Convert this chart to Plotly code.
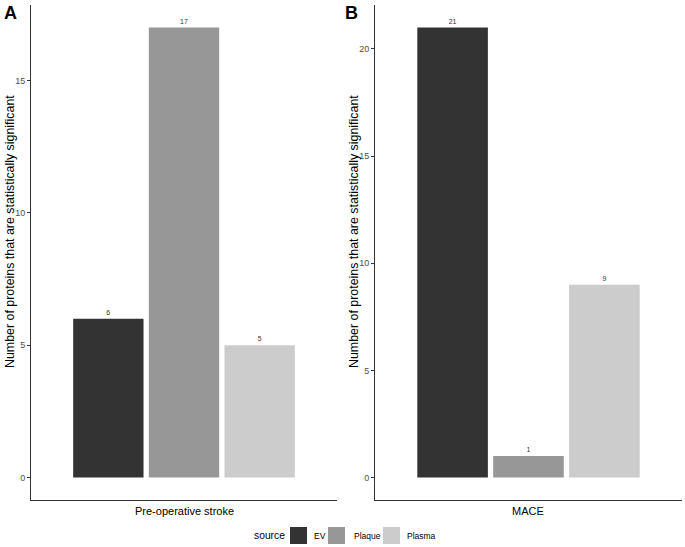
import plotly.graph_objects as go

sources = ["EV", "Plaque", "Plasma"]
colors = ["#333333", "#979797", "#cccccc"]
stroke_counts = [6, 17, 5]
mace_counts = [21, 1, 9]
panel_a_cat = ["Pre-operative stroke"]
panel_b_cat = ["MACE"]
ytitle = "Number of proteins that are statistically significant"
legend_title = "source"

W, H = 685, 547
ml, mr, mt, mb = 31, 3, 5, 47
pw = W - ml - mr
ph = H - mt - mb


def px(x):
    return (x - ml) / pw


def py(y):
    return (H - mb - y) / ph


fig = go.Figure()
for i, s in enumerate(sources):
    fig.add_trace(go.Bar(x=panel_a_cat, y=[stroke_counts[i]], name=s, marker_color=colors[i],
                         marker_line_width=0, legendgroup=s, showlegend=False,
                         text=[stroke_counts[i]], textposition="outside",
                         textfont=dict(size=7, color="#333333"), cliponaxis=False,
                         xaxis="x", yaxis="y"))
for i, s in enumerate(sources):
    fig.add_trace(go.Bar(x=panel_b_cat, y=[mace_counts[i]], name=s, marker_color=colors[i],
                         marker_line_width=0, legendgroup=s, showlegend=False,
                         text=[mace_counts[i]], textposition="outside",
                         textfont=dict(size=7, color="#333333"), cliponaxis=False,
                         xaxis="x2", yaxis="y2"))

axis_common = dict(showline=True, linecolor="#333333", linewidth=1, showgrid=False, zeroline=False,
                   automargin=False)
xa_dom = [0, px(337)]
xb_dom = [px(375), 1]

annotations = [
    dict(text="<b>A</b>", x=px(2), y=py(1), xref="paper", yref="paper", xanchor="left", yanchor="top",
         showarrow=False, font=dict(size=18)),
    dict(text="<b>B</b>", x=px(343), y=py(1), xref="paper", yref="paper", xanchor="left", yanchor="top",
         showarrow=False, font=dict(size=18)),
    dict(text=ytitle, textangle=-90, x=px(10), y=py(232), xref="paper", yref="paper",
         xanchor="center", yanchor="middle", showarrow=False, font=dict(size=12.4)),
    dict(text=ytitle, textangle=-90, x=px(354), y=py(232), xref="paper", yref="paper",
         xanchor="center", yanchor="middle", showarrow=False, font=dict(size=12.4)),
    dict(text=panel_a_cat[0], x=px(184), y=py(511), xref="paper", yref="paper",
         xanchor="center", yanchor="middle", showarrow=False, font=dict(size=11)),
    dict(text=panel_b_cat[0], x=px(528), y=py(511), xref="paper", yref="paper",
         xanchor="center", yanchor="middle", showarrow=False, font=dict(size=11)),
    dict(text=legend_title, x=px(252), y=py(535.5), xref="paper", yref="paper",
         xanchor="left", yanchor="middle", showarrow=False, font=dict(size=10.3)),
]

# legend keys (manual, ggplot-style)
key_left = [290, 328, 383]
text_left = [312, 352, 405]
shapes = []
for i, s in enumerate(sources):
    shapes.append(dict(type="rect", xref="paper", yref="paper",
                       x0=px(key_left[i]), x1=px(key_left[i] + 17), y0=py(544), y1=py(527),
                       fillcolor=colors[i], line=dict(width=0)))
    annotations.append(dict(text=s, x=px(text_left[i]), y=py(535.5), xref="paper", yref="paper",
                            xanchor="left", yanchor="middle", showarrow=False,
                            font=dict(size=8.5)))

fig.update_layout(
    width=W, height=H,
    margin=dict(l=ml, r=mr, t=mt, b=mb, autoexpand=False),
    paper_bgcolor="white", plot_bgcolor="white",
    barmode="group", bargap=0.11, bargroupgap=0.07,
    showlegend=False,
    font=dict(family="Liberation Sans, Arial, sans-serif", color="#000000"),
    xaxis=dict(domain=xa_dom, range=[-0.6, 0.6], showticklabels=False, ticks="", anchor="y", **axis_common),
    yaxis=dict(domain=[0, 1], range=[-0.85, 17.85], tickvals=[0, 5, 10, 15], ticks="outside", ticklen=3,
               tickcolor="#333333", tickfont=dict(size=9, color="#4d4d4d"), anchor="x", **axis_common),
    xaxis2=dict(domain=xb_dom, range=[-0.6, 0.6], showticklabels=False, ticks="", anchor="y2", **axis_common),
    yaxis2=dict(domain=[0, 1], range=[-1.05, 22.05], tickvals=[0, 5, 10, 15, 20], ticks="outside", ticklen=3,
                tickcolor="#333333", tickfont=dict(size=9, color="#4d4d4d"), anchor="x2", **axis_common),
    annotations=annotations,
    shapes=shapes,
)
fig.write_html("out.html", config={"displayModeBar": False},
               post_script="document.body.style.margin='0px';")
